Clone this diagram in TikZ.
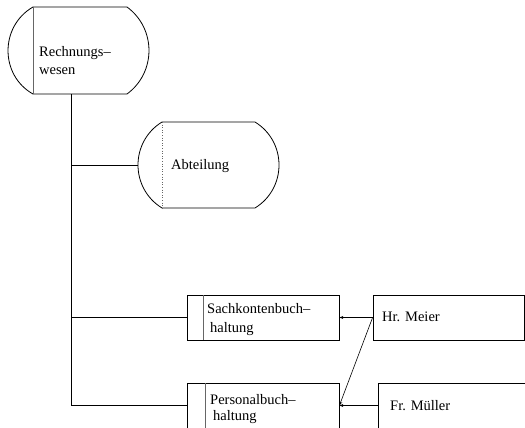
\documentclass[tikz,border=0pt]{standalone}
\usepackage{fontspec}
\setmainfont{Liberation Serif}
\usetikzlibrary{arrows.meta}
\begin{document}
\begin{tikzpicture}[x=1pt,y=-1pt,
  line/.style={draw=black,line width=0.8pt},
  sep/.style={draw=black!60,line width=0.9pt},
  boxnode/.style={draw=black,line width=0.8pt,rectangle,inner sep=0pt,minimum width=152pt,minimum height=45pt},
  anchornode/.style={inner sep=0pt,rectangle},
  lbl/.style={anchor=base west,inner sep=0pt,font=\fontsize{14.5}{17}\selectfont},
  arr/.style={line width=0.6pt,-{Stealth[length=4pt,width=3pt]}}]
\useasboundingbox (0,0) rectangle (525,428);
\clip (0,0) rectangle (525,428);
% Rechnungswesen
\node[anchornode,minimum width=141pt,minimum height=87pt] (rw) at (78.5,50.5) {};
\draw[line] (33,7) -- (127,7)
  (127,7) .. controls (156.3,28.5) and (156.3,72.5) .. (127,94) -- (33,94)
  (33,94) .. controls (-0.3,75.3) and (-0.3,26.2) .. (33,7);
\draw[sep] (33,7) -- (33,94);
\node[lbl] (rwt1) at (39,57) {Rechnungs–};
\node[lbl] (rwt2) at (39,74.5) {wesen};
% Abteilung
\node[anchornode,minimum width=141pt,minimum height=86pt] (abt) at (208.5,165) {};
\draw[line] (162,122) -- (255,122)
  (255,122) .. controls (287,141.7) and (287,188.3) .. (255,208) -- (162,208)
  (162,208) .. controls (130,188.3) and (130,141.7) .. (162,122);
\draw[draw=black!60,line width=0.6pt,dotted] (162,122) -- (162,208);
\node[lbl] (abtt) at (171,169) {Abteilung};
% boxes
\node[boxnode] (sach) at (263,317.5) {};
\draw[sep] (203,295) -- (203,340);
\node[lbl] (sacht1) at (207,313) {Sachkontenbuch–};
\node[lbl] (sacht2) at (210,332.5) {haltung};
\node[boxnode,minimum width=151pt] (meier) at (448.5,317.5) {};
\node[lbl] (meiert) at (382,321.5) {Hr. Meier};
\node[boxnode] (pers) at (263,405.5) {};
\draw[sep] (205,383) -- (205,428);
\node[lbl] (perst1) at (210,404) {Personalbuch–};
\node[lbl] (perst2) at (213,420.5) {haltung};
\node[boxnode,minimum width=162pt] (mue) at (459,405.5) {};
\node[lbl] (muet) at (390,410.5) {Fr. Müller};
% trunk
\coordinate (trunk) at ([xshift=-7.5pt]rw.south);
\draw[line] (trunk) -- (trunk |- pers.west) -- (pers.west);
\draw[line] (trunk |- abt.west) -- (abt.west);
\draw[line] (trunk |- sach.west) -- (sach.west);
% arrows
\draw[arr] (meier.west) -- (sach.east);
\draw[arr] (meier.west) -- (pers.east);
\draw[arr] (mue.west) -- (pers.east);
\end{tikzpicture}
\end{document}
